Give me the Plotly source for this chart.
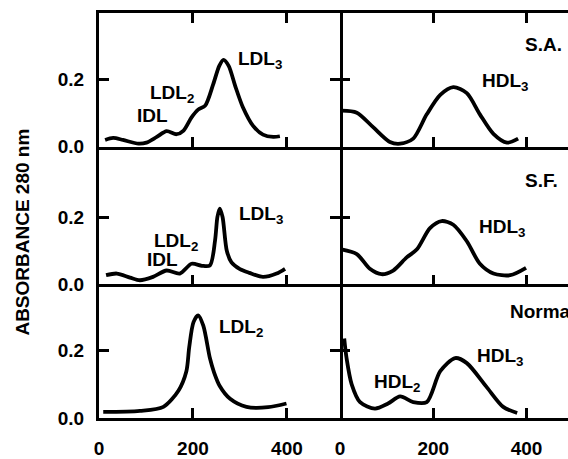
import plotly.graph_objects as go

# ---------------- data ----------------
panel_names = ["S.A.", "S.F.", "Normal"]
x_ticks = [0, 200, 400]
x_tick_text = ["0", "200", "400"]
y_ticks = [0.0, 0.2]
y_tick_text = ["0.0", "0.2"]

# S.A. - LDL region (left, top)
sa_ldl_x = [13, 30, 51, 84, 101, 123, 144, 165, 180, 197, 211, 226, 243, 256, 265, 276, 290, 306, 328, 349, 371, 385]
sa_ldl_y = [0.020, 0.026, 0.020, 0.009, 0.012, 0.029, 0.046, 0.037, 0.048, 0.087, 0.110, 0.122, 0.185, 0.240, 0.258, 0.240, 0.180, 0.118, 0.062, 0.036, 0.029, 0.031]
# S.A. - HDL region (right, top)
sa_hdl_x = [4, 36, 71, 107, 129, 157, 186, 215, 243, 272, 300, 329, 358, 382]
sa_hdl_y = [0.107, 0.101, 0.058, 0.014, 0.009, 0.024, 0.096, 0.154, 0.177, 0.159, 0.096, 0.038, 0.012, 0.024]

# S.F. - LDL region (left, middle)
sf_ldl_x = [15, 38, 66, 87, 115, 144, 172, 197, 219, 236, 247, 252, 257, 263, 272, 282, 300, 320, 349, 378, 396]
sf_ldl_y = [0.027, 0.032, 0.020, 0.012, 0.022, 0.041, 0.032, 0.061, 0.055, 0.056, 0.130, 0.200, 0.225, 0.200, 0.100, 0.065, 0.045, 0.034, 0.022, 0.032, 0.046]
# S.F. - HDL region (right, middle)
sf_hdl_x = [3, 36, 64, 89, 114, 143, 165, 193, 218, 243, 272, 300, 329, 365, 399]
sf_hdl_y = [0.104, 0.090, 0.046, 0.030, 0.041, 0.080, 0.104, 0.167, 0.188, 0.177, 0.128, 0.061, 0.032, 0.027, 0.049]

# Normal - LDL region (left, bottom)
nl_ldl_x = [9, 87, 137, 169, 186, 192, 201, 211, 222, 236, 245, 257, 279, 314, 360, 399]
nl_ldl_y = [0.018, 0.021, 0.033, 0.081, 0.139, 0.210, 0.284, 0.305, 0.274, 0.178, 0.135, 0.095, 0.057, 0.033, 0.032, 0.043]
# Normal - HDL region (right, bottom)
nl_hdl_x = [9, 14, 25, 43, 75, 103, 129, 157, 186, 215, 247, 272, 315, 350, 380]
nl_hdl_y = [0.236, 0.178, 0.100, 0.047, 0.028, 0.043, 0.064, 0.047, 0.047, 0.139, 0.178, 0.163, 0.091, 0.033, 0.015]

series = [
    (sa_ldl_x, sa_ldl_y), (sa_hdl_x, sa_hdl_y),
    (sf_ldl_x, sf_ldl_y), (sf_hdl_x, sf_hdl_y),
    (nl_ldl_x, nl_ldl_y), (nl_hdl_x, nl_hdl_y),
]

# peak labels: (panel index, text, x, y)
peak_labels = [
    (0, "IDL", 76, 0.092),
    (0, "LDL<sub>2</sub>", 104, 0.156),
    (0, "LDL<sub>3</sub>", 291, 0.258),
    (1, "HDL<sub>3</sub>", 300, 0.192),
    (2, "IDL", 98, 0.074),
    (2, "LDL<sub>2</sub>", 113, 0.126),
    (2, "LDL<sub>3</sub>", 294, 0.206),
    (3, "HDL<sub>3</sub>", 294, 0.168),
    (4, "LDL<sub>2</sub>", 251, 0.268),
    (5, "HDL<sub>2</sub>", 69, 0.104),
    (5, "HDL<sub>3</sub>", 290, 0.182),
]
name_pos = [(393, 0.302), (393, 0.308), (361, 0.317)]

# ---------------- figure ----------------
W, H = 568, 459
FONT = "Liberation Sans, Arial, Helvetica, sans-serif"
fig = go.Figure()

split = 0.5139
x_domains = [[0, split], [split, 1]]
x_ranges = [[0, 513], [0, 489]]
y_domains = [[0.6699, 1], [0.3301, 0.6699], [0, 0.3301]]
y_ranges = [[0, 0.397], [0, 0.409], [0, 0.397]]

for i, (xs, ys) in enumerate(series):
    n = i + 1
    fig.add_trace(go.Scatter(
        x=xs, y=ys, mode="lines",
        line=dict(color="black", width=3.8, shape="spline", smoothing=0.8),
        xaxis=f"x{n}", yaxis=f"y{n}", showlegend=False, hoverinfo="skip",
    ))

axis_common = dict(
    showgrid=False, zeroline=False, showline=True, linecolor="black",
    linewidth=2.5, ticks="inside", ticklen=10, tickwidth=2.5, tickcolor="black",
    tickfont=dict(family=FONT, size=19, color="black", weight="bold"),
)

layout = {}
for i in range(6):
    r, c = divmod(i, 2)
    n = i + 1
    layout[f"xaxis{n}"] = dict(
        axis_common, domain=x_domains[c], range=x_ranges[c], anchor=f"y{n}",
        tickvals=x_ticks, ticktext=x_tick_text,
        showticklabels=(r == 2), mirror=("ticks" if r == 0 else False),
        linewidth=(3 if r == 0 else 2.5),
        ticklabelstandoff=11,
    )
    layout[f"yaxis{n}"] = dict(
        axis_common, domain=y_domains[r], range=y_ranges[r], anchor=f"x{n}",
        tickvals=y_ticks, ticktext=y_tick_text,
        showticklabels=(c == 0), mirror=("ticks" if c == 0 else False),
        showline=(c == 0),
        linewidth=(3 if c == 0 else 2.5),
        ticklabelstandoff=8,
    )

annotations = []
for p, txt, ax, ay in peak_labels:
    annotations.append(dict(
        text=txt, x=ax, y=ay, xref=f"x{p + 1}", yref=f"y{p + 1}",
        xanchor="left", yanchor="middle", showarrow=False,
        font=dict(family=FONT, size=19, color="black", weight="bold"),
    ))
for r, (nx, ny) in enumerate(name_pos):
    p = 2 * r + 2
    annotations.append(dict(
        text=panel_names[r], x=nx, y=ny, xref=f"x{p}", yref=f"y{p}",
        xanchor="left", yanchor="middle", showarrow=False,
        font=dict(family=FONT, size=19, color="black", weight="bold"),
    ))
annotations.append(dict(
    text="ABSORBANCE 280 nm", x=-0.164, y=0.458, xref="paper", yref="paper",
    textangle=-90, xanchor="center", yanchor="middle", showarrow=False,
    font=dict(family=FONT, size=19, color="black", weight="bold"),
))

fig.update_layout(
    width=W, height=H,
    margin=dict(l=99, r=0, t=13, b=31, pad=0),
    paper_bgcolor="white", plot_bgcolor="white",
    annotations=annotations, showlegend=False,
    **layout,
)

fig.write_html(
    "out.html",
    config={"displayModeBar": False},
    post_script="document.body.style.margin='0';document.body.style.overflow='hidden';",
)
